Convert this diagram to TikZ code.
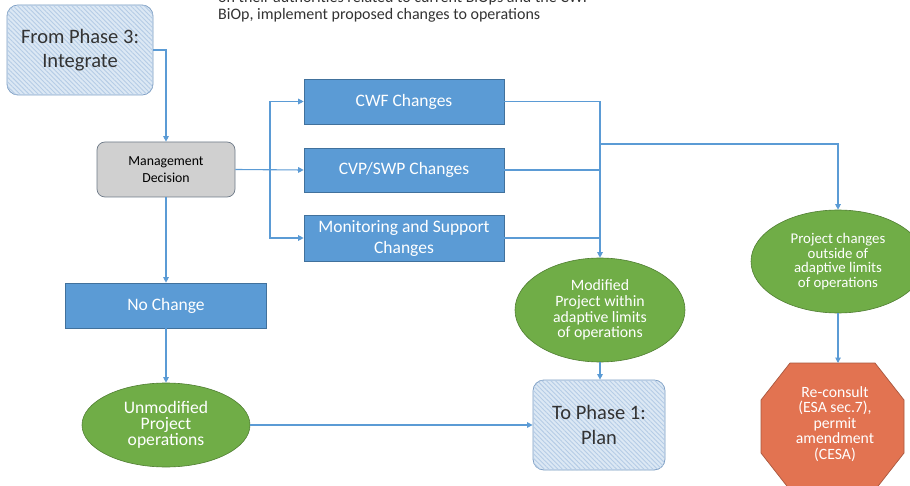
\documentclass[tikz,border=0pt]{standalone}
\usepackage{fontspec}
\setmainfont{Carlito}
\usetikzlibrary{arrows.meta,shapes.geometric,patterns.meta}
\definecolor{boxblue}{HTML}{5B9BD5}
\definecolor{boxblueline}{HTML}{41719C}
\definecolor{ellgreen}{HTML}{70AD47}
\definecolor{ellgreenline}{HTML}{507E32}
\definecolor{mdgray}{HTML}{D0D0D0}
\definecolor{mdline}{HTML}{6E7A88}
\definecolor{hatchbase}{HTML}{DCE8F4}
\definecolor{hatchline}{HTML}{B5CCE6}
\definecolor{hatchborder}{HTML}{7F9FC4}
\definecolor{octfill}{HTML}{E27351}
\definecolor{octline}{HTML}{A9573E}
\definecolor{conn}{HTML}{5B9BD5}
\definecolor{darktext}{HTML}{333333}
\tikzset{
  x=1pt, y=-1pt,
  bluebox/.style={draw=boxblueline, line width=0.6pt, fill=boxblue, text=white,
    font=\fontsize{17.5}{21}\selectfont, align=center, inner sep=0pt},
  greenell/.style={ellipse, draw=ellgreenline, line width=0.6pt, fill=ellgreen, text=white,
    align=center, inner sep=0pt},
  hatchbox/.style={draw=hatchborder, line width=0.8pt, rounded corners=11pt, fill=hatchbase,
    postaction={pattern={Lines[angle=-45,distance=3.2pt,line width=0.9pt]}, pattern color=hatchline},
    text=darktext, font=\fontsize{20.5}{24.5}\selectfont, align=center, inner sep=0pt},
  mdbox/.style={draw=mdline, line width=0.7pt, rounded corners=8pt, fill=mdgray, text=black,
    font=\fontsize{13.8}{16.5}\selectfont, align=center, inner sep=0pt},
  arr/.style={draw=conn, line width=1.1pt, -{Triangle[length=5.5pt,width=5.5pt]}},
  ln/.style={draw=conn, line width=1.1pt},
  notetext/.style={anchor=base west, inner sep=0pt, text=darktext, font=\fontsize{16}{18}\selectfont},
}
\begin{document}
\begin{tikzpicture}
\useasboundingbox (0,0) rectangle (910,486);
\clip (0,0) rectangle (910,486);
\fill[white] (0,0) rectangle (910,486);

% top note (first line cut off by the page edge)
\node[notetext] (note1) at (218,2.5)
  {on their authorities related to current BiOps and the CWF};
\node[notetext] (note2) at (218,20)
  {BiOp, implement proposed changes to operations};

% nodes
\node[hatchbox, minimum width=146pt, minimum height=90pt] (p3) at (80,50) {From Phase 3:\\Integrate};
\node[mdbox, minimum width=138pt, minimum height=55pt] (md) at (166,169.5) {Management\\Decision};
\node[bluebox, minimum width=200pt, minimum height=45pt] (cwf) at (404,101.5) {CWF Changes};
\node[bluebox, minimum width=200pt, minimum height=44pt] (cvp) at (404,170) {CVP/SWP Changes};
\node[bluebox, minimum width=200pt, minimum height=46pt] (mon) at (404,238) {Monitoring and Support\\Changes};
\node[bluebox, minimum width=201pt, minimum height=45pt] (nc) at (166,305.5) {No Change};
\node[greenell, minimum width=170pt, minimum height=104pt, font=\fontsize{15.8}{15.6}\selectfont] (mod) at (600,310)
  {Modified\\Project within\\adaptive limits\\of operations};
\node[greenell, minimum width=174pt, minimum height=103pt, font=\fontsize{14.8}{14.4}\selectfont] (out) at (838,261.5)
  {Project changes\\outside of\\adaptive limits\\of operations};
\node[hatchbox, minimum width=132pt, minimum height=90pt] (p1) at (599,425) {To Phase 1:\\Plan};
\node[greenell, minimum width=168pt, minimum height=84pt, font=\fontsize{17.6}{16.3}\selectfont] (um) at (166,425)
  {Unmodified\\Project\\operations};

% octagon
\draw[draw=octline, line width=0.7pt, fill=octfill]
  (790,363) -- (875,363) -- (904,400) -- (904,453) -- (875,490) -- (790,490) -- (761,453) -- (761,400) -- cycle;
\coordinate (octtop) at (832.5,363);
\node[text=white, align=center, inner sep=0pt, font=\fontsize{15.7}{15.6}\selectfont] (oct) at (835,424)
  {Re-consult\\(ESA sec.7),\\permit\\amendment\\(CESA)};

% connectors
\coordinate (bus) at (270,170);
\coordinate (rbus) at (600,144);
\draw[arr] (p3.east) -| (md.north);
\draw[arr] (md.east) -- (cvp.west);
\draw[arr] (bus) |- (cwf.west);
\draw[arr] (bus) |- (mon.west);
\draw[arr] (cwf.east) -| (mod.north);
\draw[ln] (cvp.east) -- (cvp.east -| mod.north);
\draw[ln] (mon.east) -- (mon.east -| mod.north);
\draw[arr] (rbus) -| (out.north);
\draw[arr] (mod.south) -- (p1.north -| mod.south);
\draw[arr] (out.south) -- (out.south |- octtop);
\draw[arr] (md.south) -- (md.south |- nc.north);
\draw[arr] (nc.south -| um.north) -- (um.north);
\draw[arr] (um.east) -- (p1.west);
\end{tikzpicture}
\end{document}
